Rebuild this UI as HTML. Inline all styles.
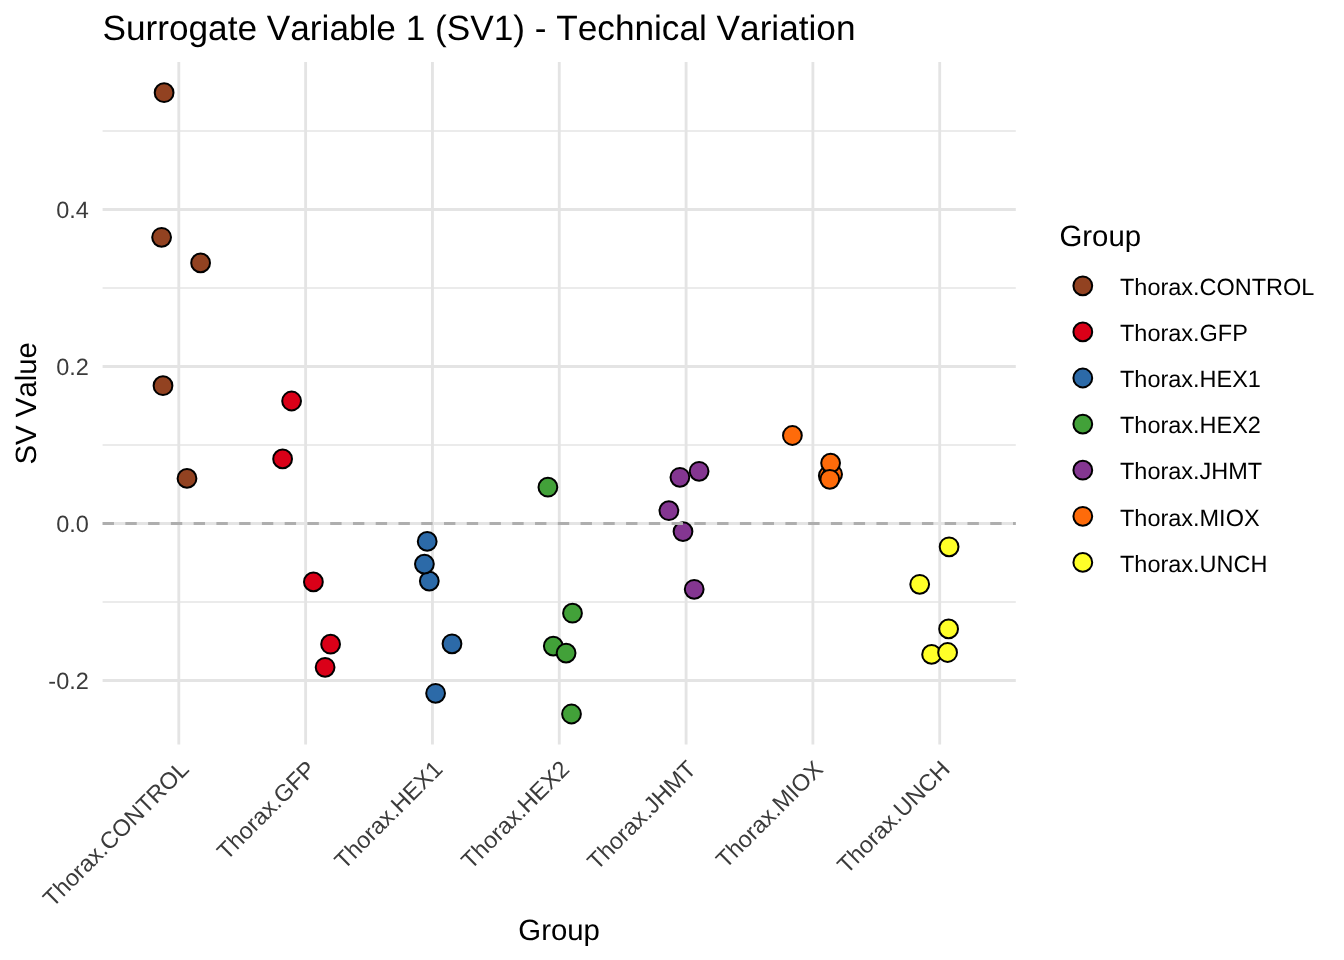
<!DOCTYPE html><html><head><meta charset="utf-8"><style>html,body{margin:0;padding:0;background:#fff;overflow:hidden;width:1344px;height:960px;}svg{display:block;will-change:transform;}text{font-family:"Liberation Sans",sans-serif;text-rendering:geometricPrecision;font-kerning:none;font-feature-settings:"kern" 0;}</style></head><body>
<svg width="1344" height="960" viewBox="0 0 1344 960">
<rect width="1344" height="960" fill="#fff"/>
<line x1="102.6" x2="1015.8" y1="602.00" y2="602.00" stroke="#E4E4E4" stroke-width="1.42"/>
<line x1="102.6" x2="1015.8" y1="445.00" y2="445.00" stroke="#E4E4E4" stroke-width="1.42"/>
<line x1="102.6" x2="1015.8" y1="288.00" y2="288.00" stroke="#E4E4E4" stroke-width="1.42"/>
<line x1="102.6" x2="1015.8" y1="131.00" y2="131.00" stroke="#E4E4E4" stroke-width="1.42"/>
<line x1="102.6" x2="1015.8" y1="680.50" y2="680.50" stroke="#E4E4E4" stroke-width="2.84"/>
<line x1="102.6" x2="1015.8" y1="523.50" y2="523.50" stroke="#E4E4E4" stroke-width="2.84"/>
<line x1="102.6" x2="1015.8" y1="366.50" y2="366.50" stroke="#E4E4E4" stroke-width="2.84"/>
<line x1="102.6" x2="1015.8" y1="209.50" y2="209.50" stroke="#E4E4E4" stroke-width="2.84"/>
<line x1="178.80" x2="178.80" y1="62.0" y2="744.5" stroke="#E4E4E4" stroke-width="2.84"/>
<line x1="305.62" x2="305.62" y1="62.0" y2="744.5" stroke="#E4E4E4" stroke-width="2.84"/>
<line x1="432.44" x2="432.44" y1="62.0" y2="744.5" stroke="#E4E4E4" stroke-width="2.84"/>
<line x1="559.26" x2="559.26" y1="62.0" y2="744.5" stroke="#E4E4E4" stroke-width="2.84"/>
<line x1="686.08" x2="686.08" y1="62.0" y2="744.5" stroke="#E4E4E4" stroke-width="2.84"/>
<line x1="812.90" x2="812.90" y1="62.0" y2="744.5" stroke="#E4E4E4" stroke-width="2.84"/>
<line x1="939.72" x2="939.72" y1="62.0" y2="744.5" stroke="#E4E4E4" stroke-width="2.84"/>
<circle cx="164.1" cy="92.7" r="9.4" fill="#924221" stroke="#000" stroke-width="2.0"/>
<circle cx="161.6" cy="237.3" r="9.4" fill="#924221" stroke="#000" stroke-width="2.0"/>
<circle cx="200.6" cy="262.9" r="9.4" fill="#924221" stroke="#000" stroke-width="2.0"/>
<circle cx="163.0" cy="385.7" r="9.4" fill="#924221" stroke="#000" stroke-width="2.0"/>
<circle cx="187.0" cy="478.4" r="9.4" fill="#924221" stroke="#000" stroke-width="2.0"/>
<circle cx="291.6" cy="401.0" r="9.4" fill="#DA0018" stroke="#000" stroke-width="2.0"/>
<circle cx="282.6" cy="458.9" r="9.4" fill="#DA0018" stroke="#000" stroke-width="2.0"/>
<circle cx="313.4" cy="581.9" r="9.4" fill="#DA0018" stroke="#000" stroke-width="2.0"/>
<circle cx="330.6" cy="644.2" r="9.4" fill="#DA0018" stroke="#000" stroke-width="2.0"/>
<circle cx="325.1" cy="667.3" r="9.4" fill="#DA0018" stroke="#000" stroke-width="2.0"/>
<circle cx="427.2" cy="541.4" r="9.4" fill="#2C6AA8" stroke="#000" stroke-width="2.0"/>
<circle cx="429.3" cy="581.1" r="9.4" fill="#2C6AA8" stroke="#000" stroke-width="2.0"/>
<circle cx="424.4" cy="564.1" r="9.4" fill="#2C6AA8" stroke="#000" stroke-width="2.0"/>
<circle cx="452.0" cy="643.8" r="9.4" fill="#2C6AA8" stroke="#000" stroke-width="2.0"/>
<circle cx="435.6" cy="693.3" r="9.4" fill="#2C6AA8" stroke="#000" stroke-width="2.0"/>
<circle cx="547.9" cy="487.2" r="9.4" fill="#42A139" stroke="#000" stroke-width="2.0"/>
<circle cx="572.5" cy="613.2" r="9.4" fill="#42A139" stroke="#000" stroke-width="2.0"/>
<circle cx="553.3" cy="646.1" r="9.4" fill="#42A139" stroke="#000" stroke-width="2.0"/>
<circle cx="566.1" cy="653.1" r="9.4" fill="#42A139" stroke="#000" stroke-width="2.0"/>
<circle cx="571.5" cy="714.0" r="9.4" fill="#42A139" stroke="#000" stroke-width="2.0"/>
<circle cx="679.9" cy="477.3" r="9.4" fill="#843691" stroke="#000" stroke-width="2.0"/>
<circle cx="699.1" cy="471.3" r="9.4" fill="#843691" stroke="#000" stroke-width="2.0"/>
<circle cx="668.9" cy="510.7" r="9.4" fill="#843691" stroke="#000" stroke-width="2.0"/>
<circle cx="683.0" cy="531.6" r="9.4" fill="#843691" stroke="#000" stroke-width="2.0"/>
<circle cx="694.2" cy="589.3" r="9.4" fill="#843691" stroke="#000" stroke-width="2.0"/>
<circle cx="792.4" cy="435.5" r="9.4" fill="#FE6B0A" stroke="#000" stroke-width="2.0"/>
<circle cx="828.3" cy="475.8" r="9.4" fill="#FE6B0A" stroke="#000" stroke-width="2.0"/>
<circle cx="832.6" cy="474.3" r="9.4" fill="#FE6B0A" stroke="#000" stroke-width="2.0"/>
<circle cx="830.6" cy="463.1" r="9.4" fill="#FE6B0A" stroke="#000" stroke-width="2.0"/>
<circle cx="829.8" cy="479.3" r="9.4" fill="#FE6B0A" stroke="#000" stroke-width="2.0"/>
<circle cx="949.1" cy="546.8" r="9.4" fill="#FFFF28" stroke="#000" stroke-width="2.0"/>
<circle cx="919.7" cy="584.3" r="9.4" fill="#FFFF28" stroke="#000" stroke-width="2.0"/>
<circle cx="948.6" cy="628.9" r="9.4" fill="#FFFF28" stroke="#000" stroke-width="2.0"/>
<circle cx="931.6" cy="654.4" r="9.4" fill="#FFFF28" stroke="#000" stroke-width="2.0"/>
<circle cx="947.6" cy="652.5" r="9.4" fill="#FFFF28" stroke="#000" stroke-width="2.0"/>
<line x1="102.6" x2="1015.8" y1="523.50" y2="523.50" stroke="#AEAEAE" stroke-width="2.84" stroke-dasharray="11.38 11.38"/>
<text x="88.8" y="217.50" font-size="23.47" fill="#3B3B3B" text-anchor="end">0.4</text>
<text x="88.8" y="374.50" font-size="23.47" fill="#3B3B3B" text-anchor="end">0.2</text>
<text x="88.8" y="531.50" font-size="23.47" fill="#3B3B3B" text-anchor="end">0.0</text>
<text x="88.8" y="688.50" font-size="23.47" fill="#3B3B3B" text-anchor="end">-0.2</text>
<text transform="translate(178.20,758.55) rotate(-45)" font-size="23.47" fill="#3B3B3B" text-anchor="end" y="17">Thorax.CONTROL</text>
<text transform="translate(305.02,758.55) rotate(-45)" font-size="23.47" fill="#3B3B3B" text-anchor="end" y="17">Thorax.GFP</text>
<text transform="translate(431.84,758.55) rotate(-45)" font-size="23.47" fill="#3B3B3B" text-anchor="end" y="17">Thorax.HEX1</text>
<text transform="translate(558.66,758.55) rotate(-45)" font-size="23.47" fill="#3B3B3B" text-anchor="end" y="17">Thorax.HEX2</text>
<text transform="translate(685.48,758.55) rotate(-45)" font-size="23.47" fill="#3B3B3B" text-anchor="end" y="17">Thorax.JHMT</text>
<text transform="translate(812.30,758.55) rotate(-45)" font-size="23.47" fill="#3B3B3B" text-anchor="end" y="17">Thorax.MIOX</text>
<text transform="translate(939.12,758.55) rotate(-45)" font-size="23.47" fill="#3B3B3B" text-anchor="end" y="17">Thorax.UNCH</text>
<text x="102.5" y="40" font-size="35.2" fill="#000">Surrogate Variable 1 (SV1) - Technical Variation</text>
<text x="559.1" y="940" font-size="29.33" fill="#000" text-anchor="middle">Group</text>
<text transform="translate(36.4,403.3) rotate(-90)" font-size="29.33" fill="#000" text-anchor="middle">SV Value</text>
<text x="1059.5" y="245.5" font-size="29.33" fill="#000">Group</text>
<circle cx="1082.8" cy="285.80" r="9.4" fill="#924221" stroke="#000" stroke-width="2.0"/>
<text x="1120" y="295.00" font-size="23.47" fill="#000">Thorax.CONTROL</text>
<circle cx="1082.8" cy="331.90" r="9.4" fill="#DA0018" stroke="#000" stroke-width="2.0"/>
<text x="1120" y="341.10" font-size="23.47" fill="#000">Thorax.GFP</text>
<circle cx="1082.8" cy="378.00" r="9.4" fill="#2C6AA8" stroke="#000" stroke-width="2.0"/>
<text x="1120" y="387.20" font-size="23.47" fill="#000">Thorax.HEX1</text>
<circle cx="1082.8" cy="424.10" r="9.4" fill="#42A139" stroke="#000" stroke-width="2.0"/>
<text x="1120" y="433.30" font-size="23.47" fill="#000">Thorax.HEX2</text>
<circle cx="1082.8" cy="470.20" r="9.4" fill="#843691" stroke="#000" stroke-width="2.0"/>
<text x="1120" y="479.40" font-size="23.47" fill="#000">Thorax.JHMT</text>
<circle cx="1082.8" cy="516.30" r="9.4" fill="#FE6B0A" stroke="#000" stroke-width="2.0"/>
<text x="1120" y="525.50" font-size="23.47" fill="#000">Thorax.MIOX</text>
<circle cx="1082.8" cy="562.40" r="9.4" fill="#FFFF28" stroke="#000" stroke-width="2.0"/>
<text x="1120" y="571.60" font-size="23.47" fill="#000">Thorax.UNCH</text>
</svg></body></html>
